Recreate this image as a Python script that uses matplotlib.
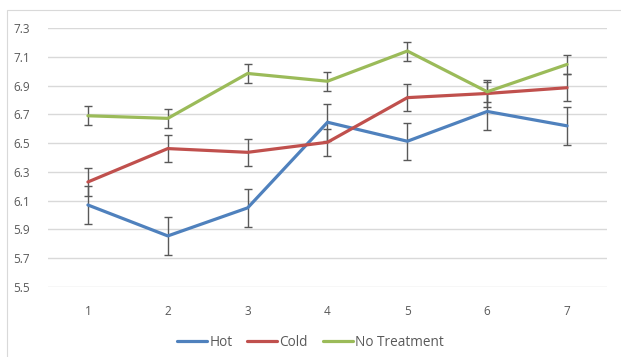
import matplotlib.pyplot as plt
from matplotlib.patches import Rectangle

# valeurs
x = [1, 2, 3, 4, 5, 6, 7]
hot = [6.07, 5.855, 6.05, 6.645, 6.513, 6.72, 6.62]
cold = [6.23, 6.462, 6.436, 6.506, 6.816, 6.845, 6.885]
no_treat = [6.69, 6.672, 6.984, 6.93, 7.14, 6.857, 7.047]
err_hot = [0.13, 0.13, 0.13, 0.13, 0.13, 0.13, 0.13]
err_cold = [0.095, 0.094, 0.094, 0.095, 0.095, 0.095, 0.095]
err_no = [0.065, 0.067, 0.065, 0.065, 0.066, 0.07, 0.067]
yticks = [5.5, 5.7, 5.9, 6.1, 6.3, 6.5, 6.7, 6.9, 7.1, 7.3]

plt.rcParams['font.family'] = ['Open Sans', 'DejaVu Sans']
gris = '#595959'

fig = plt.figure(figsize=(6.21, 3.57), dpi=100)
fig.patches.append(Rectangle((7/621, -0.01), 1.0, 1 - 10/357 + 0.01, transform=fig.transFigure,
                             fill=False, edgecolor='#d9d9d9', linewidth=0.8))
ax = fig.add_axes([48/621, 70/357, 559/621, 259/357])

series = [(hot, err_hot, '#4f81bd', 'Hot'),
          (cold, err_cold, '#c0504d', 'Cold'),
          (no_treat, err_no, '#9bbb59', 'No Treatment')]
for vals, err, col, lab in series:
    ax.errorbar(x, vals, yerr=err, fmt='none', ecolor=gris, elinewidth=1.0,
                capsize=3, capthick=1.0, zorder=2)
    ax.plot(x, vals, color=col, linewidth=2.3, label=lab, zorder=3, solid_capstyle='round')

ax.set_xlim(0.5, 7.5)
ax.set_ylim(5.5, 7.3)
ax.set_yticks(yticks)
ax.set_yticklabels([f"{v:.1f}" for v in yticks])
ax.set_xticks(x)
ax.grid(axis='y', color='#d9d9d9', linewidth=1.0, zorder=0)
ax.set_axisbelow(True)
for s in ax.spines.values():
    s.set_visible(False)
ax.tick_params(length=0, labelsize=8.5, labelcolor=gris)
ax.tick_params(axis='y', pad=13)
ax.tick_params(axis='x', pad=13)

fig.legend(loc='center', bbox_to_anchor=(0.5, 1 - 342/357), ncol=3, frameon=False,
           fontsize=9.8, labelcolor=gris, handlelength=2.2, handletextpad=0.15,
           columnspacing=1.1)

fig.savefig('out.png', dpi=100)
